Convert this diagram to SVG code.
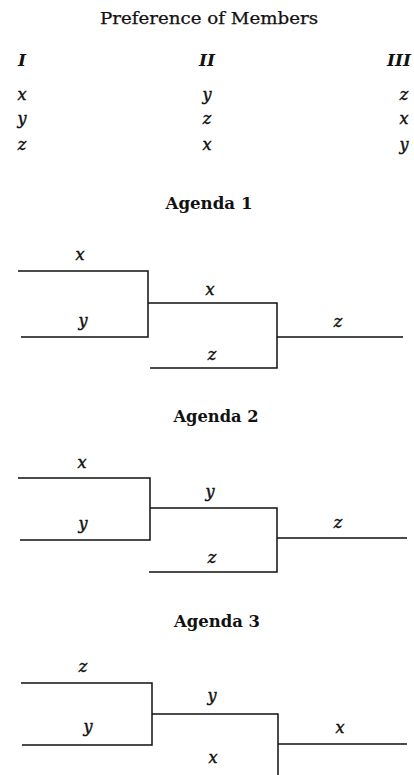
<svg xmlns="http://www.w3.org/2000/svg" width="414" height="775" viewBox="0 0 414 775">
<style>
.t{font-family:"DejaVu Serif","Liberation Serif",serif;font-size:16px;fill:#111;stroke:#111;stroke-width:0.25;text-anchor:middle}
.h{font-family:"DejaVu Serif","Liberation Serif",serif;font-size:16px;font-weight:bold;fill:#111;text-anchor:middle}
.i{font-family:"DejaVu Serif","Liberation Serif",serif;font-style:italic;font-size:16px;fill:#111;stroke:#111;stroke-width:0.45;text-anchor:middle}
.ib{font-family:"DejaVu Serif","Liberation Serif",serif;font-style:italic;font-weight:bold;font-size:17px;fill:#111;text-anchor:middle}
.ln{stroke:#111;stroke-width:1.5;fill:none}
</style>
<rect width="414" height="775" fill="#fff"/>
<g id="preferences">
<text class="t" x="209" y="24" textLength="218" lengthAdjust="spacingAndGlyphs">Preference of Members</text>
<text class="ib" x="22" y="66">I</text>
<text class="ib" x="207" y="66">II</text>
<text class="ib" x="399" y="66">III</text>
<text class="i" x="22" y="100">x</text>
<text class="i" x="207" y="100">y</text>
<text class="i" x="404" y="100">z</text>
<text class="i" x="22" y="124">y</text>
<text class="i" x="207" y="124">z</text>
<text class="i" x="404" y="124">x</text>
<text class="i" x="22" y="150">z</text>
<text class="i" x="207" y="150">x</text>
<text class="i" x="404" y="150">y</text>
</g>
<g id="agenda1">
<text class="h" x="209" y="209" textLength="87" lengthAdjust="spacingAndGlyphs">Agenda 1</text>
<text class="i" x="80" y="260">x</text>
<text class="i" x="83" y="326">y</text>
<text class="i" x="210" y="295">x</text>
<text class="i" x="212" y="360">z</text>
<text class="i" x="338" y="327">z</text>
</g>
<g id="agenda2">
<text class="h" x="216" y="422" textLength="85" lengthAdjust="spacingAndGlyphs">Agenda 2</text>
<text class="i" x="82" y="468">x</text>
<text class="i" x="83" y="529">y</text>
<text class="i" x="210" y="497">y</text>
<text class="i" x="212" y="563">z</text>
<text class="i" x="338" y="528">z</text>
</g>
<g id="agenda3">
<text class="h" x="217" y="627" textLength="86" lengthAdjust="spacingAndGlyphs">Agenda 3</text>
<text class="i" x="83" y="672">z</text>
<text class="i" x="88" y="732">y</text>
<text class="i" x="212" y="701">y</text>
<text class="i" x="213" y="763">x</text>
<text class="i" x="340" y="733">x</text>
</g>
<g id="connectors">
<path class="ln" d="M18 271H148V337H21M148 303H277V368H150M277 337H403"/>
<path class="ln" d="M18 478H150V540H20M150 508H277V572H149M277 538H407"/>
<path class="ln" d="M21 683H152V745H22M152 714H278V775M278 744H407"/>
</g>
</svg>
